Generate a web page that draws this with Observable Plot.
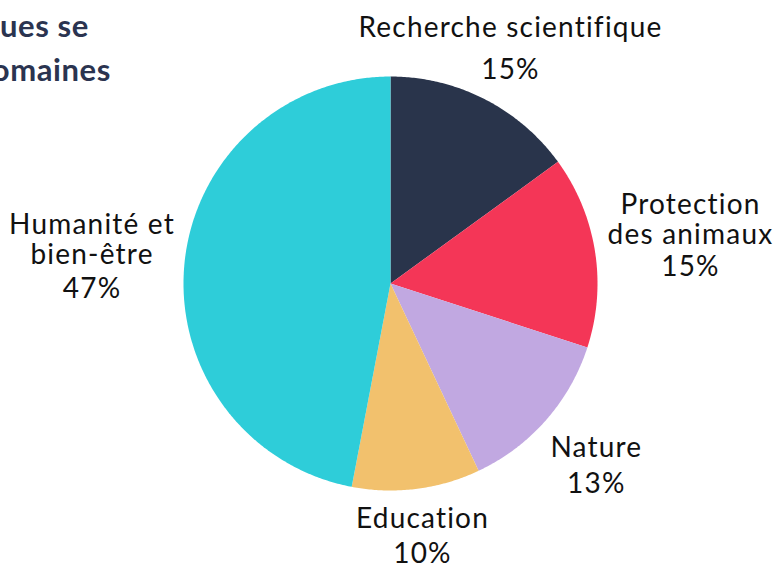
<!DOCTYPE html>
<html>
<head>
<meta charset="utf-8">
<script src="https://cdn.jsdelivr.net/npm/d3@7"></script>
<script src="https://cdn.jsdelivr.net/npm/@observablehq/plot@0.6"></script>
<style>
  html, body { margin: 0; padding: 0; background: #fff; overflow: hidden; }
  #wrap { position: relative; width: 777px; height: 567px; overflow: hidden; }
  #wrap svg text { letter-spacing: 1.2px; }
  .title { position: absolute; white-space: nowrap; font-family: Lato, sans-serif; font-weight: 700;
           font-size: 31px; letter-spacing: 0.6px; color: #2b3450; text-align: right; line-height: 1; }
</style>
</head>
<body>
<div id="wrap"></div>
<script>
// ---- data ----
const categories = ["Recherche scientifique", "Protection des animaux", "Nature", "Education", "Humanité et bien-être"];
const labelText = [["Recherche scientifique"], ["Protection", "des animaux"], ["Nature"], ["Education"], ["Humanité et", "bien-être"]];
const shares = [15, 15, 13, 10, 47];
const colors = ["#29344b", "#f43657", "#c1a8e1", "#f2c16d", "#2ecdd9"];
const titleLines = ["Les dons philanthropiques se", "répartissent en cinq grands domaines"];

// ---- layout ----
const W = 777, H = 567;
const R = 207;
const labelRadius = [255, 302.5, 281, 264.4, 299];
const labelAngleShift = [1.07, 1.6, 1.5, 0.25, -1.95]; // degrees
const nameGap = 30;
const percentGap = [42, 32, 36, 35, 34];

const total = d3.sum(shares);
let acc = 0;
const slices = categories.map((c, i) => {
  const a0 = acc / total * 2 * Math.PI;
  acc += shares[i];
  const a1 = acc / total * 2 * Math.PI;
  return {category: c, a0, a1, i};
});

const poly = [];
for (const s of slices) {
  poly.push({category: s.category, x: 0, y: 0});
  const n = Math.max(2, Math.ceil((s.a1 - s.a0) / (Math.PI / 360)));
  for (let k = 0; k <= n; k++) {
    const a = s.a0 + (s.a1 - s.a0) * k / n;
    poly.push({category: s.category, x: R * Math.sin(a), y: R * Math.cos(a)});
  }
}

// one row per text line, y = baseline (data units are pixels, y up)
const lines = [];
for (const s of slices) {
  const m = (s.a0 + s.a1) / 2 + labelAngleShift[s.i] * Math.PI / 180;
  const r = labelRadius[s.i];
  const cx = r * Math.sin(m), cy = r * Math.cos(m);
  const names = labelText[s.i];
  const span = (names.length - 1) * nameGap + percentGap[s.i];
  let y = cy + span / 2;
  names.forEach((t, k) => { lines.push({x: cx, y: y - k * nameGap, text: t}); });
  lines.push({x: cx, y: y - (names.length - 1) * nameGap - percentGap[s.i], text: shares[s.i] + "%"});
}

const chart = Plot.plot({
  width: W, height: H,
  margin: 0,
  style: {background: "transparent", fontFamily: "Lato, sans-serif", overflow: "visible"},
  x: {domain: [-390, 387], range: [0, W], axis: null},
  y: {domain: [-284, 283], range: [H, 0], axis: null},
  color: {domain: categories, range: colors},
  marks: [
    Plot.line(poly, {x: "x", y: "y", z: "category", fill: "category", stroke: null, curve: "linear-closed"}),
    Plot.text(lines, {x: "x", y: "y", text: "text", fontSize: 28, fill: "#111", textAnchor: "middle", lineAnchor: "bottom"})
  ]
});

const wrap = document.getElementById("wrap");
wrap.appendChild(chart);
// baseline of line = top + 0.887em (Lato, line-height 1)
const t1 = document.createElement("div");
t1.className = "title"; t1.textContent = titleLines[0];
t1.style.right = (W - 89) + "px"; t1.style.top = (37 - 0.887 * 31) + "px";
const t2 = document.createElement("div");
t2.className = "title"; t2.textContent = titleLines[1];
t2.style.right = (W - 111) + "px"; t2.style.top = (81 - 0.887 * 31) + "px";
wrap.appendChild(t1); wrap.appendChild(t2);
</script>
</body>
</html>
